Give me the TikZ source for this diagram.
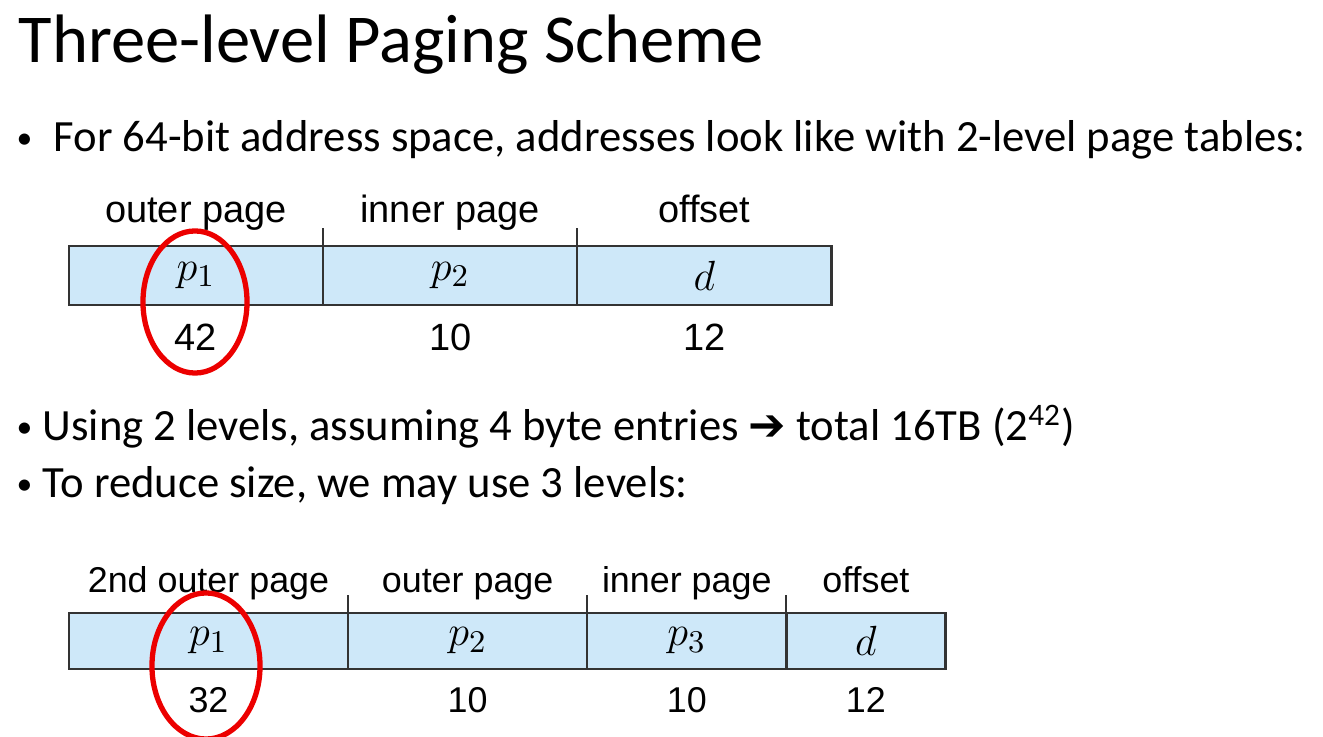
\documentclass[tikz,border=0pt]{standalone}
\usepackage{fontspec}
\setmainfont{Carlito}
\newfontfamily\labelfont{Liberation Sans}
\newfontfamily\symfont{DejaVu Sans}
\usetikzlibrary{positioning}
\definecolor{cellblue}{RGB}{206,232,249}
\definecolor{ringred}{RGB}{236,0,0}

\tikzset{
  fieldbox/.style={draw=black!80, line width=0.7pt, fill=cellblue,
                   inner sep=0pt, outer sep=0pt, font=\fontsize{13}{15}\selectfont},
  fieldlabel/.style={anchor=base, inner sep=0pt, font=\labelfont\fontsize{10.8}{13}\selectfont},
  bitcount/.style={anchor=base, inner sep=0pt, font=\labelfont\fontsize{10.8}{13}\selectfont},
  bullettext/.style={anchor=base west, inner sep=0pt, font=\fontsize{12.7}{15}\selectfont},
  bulletdot/.style={anchor=base west, inner sep=0pt, font=\fontsize{9}{10}\selectfont},
  ring/.style={draw=ringred, line width=1.5pt},
  tick/.style={draw=black!80, line width=0.5pt}
}

\begin{document}
\begin{tikzpicture}[x=0.01cm, y=-0.01cm]
\useasboundingbox[fill=white] (0,0) rectangle (1323,737);

%title
\node[anchor=base west, inner sep=0pt, font=\fontsize{19.5}{23}\selectfont] (title) at (18,63) {Three-level Paging Scheme};

%first bullet
\node[bulletdot] (b1) at (16,149) {\textbullet};
\node[bullettext] (t1) at (53,152) {For 64-bit address space, addresses look like with 2-level page tables:};

%2-level address
\node[fieldbox, minimum width=2.54cm, minimum height=0.59cm] (a1) at (196,275.5) {$p_1$};
\node[fieldbox, minimum width=2.54cm, minimum height=0.59cm, right=0pt of a1] (a2) {$p_2$};
\node[fieldbox, minimum width=2.54cm, minimum height=0.59cm, right=0pt of a2] (a3) {$d$};
\draw[tick] (a2.north west) -- ++(0,-18);
\draw[tick] (a3.north west) -- ++(0,-18);
\node[fieldlabel] (la1) at ([yshift=0.23cm]a1.north) {outer page};
\node[fieldlabel] (la2) at ([yshift=0.23cm]a2.north) {inner page};
\node[fieldlabel] (la3) at ([yshift=0.23cm]a3.north) {offset};
\node[bitcount] (na1) at ([yshift=-0.45cm]a1.south) {42};
\node[bitcount] (na2) at ([yshift=-0.45cm]a2.south) {10};
\node[bitcount] (na3) at ([yshift=-0.45cm]a3.south) {12};
\draw[ring] (195,302) ellipse [x radius=0.52cm, y radius=0.71cm];

%more bullets
\node[bulletdot] (b2) at (16,438) {\textbullet};
\node[bullettext] (t2) at (42,441) {Using 2 levels, assuming 4 byte entries {\symfont ➔} total 16TB (2\textsuperscript{42})};
\node[bulletdot] (b3) at (16,495) {\textbullet};
\node[bullettext] (t3) at (42,498) {To reduce size, we may use 3 levels:};

%3-level address
\node[fieldbox, minimum width=2.79cm, minimum height=0.56cm] (c1) at (208.5,641) {$p_1$};
\node[fieldbox, minimum width=2.39cm, minimum height=0.56cm, right=0pt of c1] (c2) {$p_2$};
\node[fieldbox, minimum width=1.99cm, minimum height=0.56cm, right=0pt of c2] (c3) {$p_3$};
\node[fieldbox, minimum width=1.59cm, minimum height=0.56cm, right=0pt of c3] (c4) {$d$};
\draw[tick] (c2.north west) -- ++(0,-18);
\draw[tick] (c3.north west) -- ++(0,-18);
\draw[tick] (c4.north west) -- ++(0,-18);
\node[fieldlabel, font=\labelfont\fontsize{10.2}{12}\selectfont] (lc1) at ([yshift=0.20cm]c1.north) {2nd outer page};
\node[fieldlabel, font=\labelfont\fontsize{10.2}{12}\selectfont] (lc2) at ([yshift=0.20cm]c2.north) {outer page};
\node[fieldlabel, font=\labelfont\fontsize{10.2}{12}\selectfont] (lc3) at ([yshift=0.20cm]c3.north) {inner page};
\node[fieldlabel, font=\labelfont\fontsize{10.2}{12}\selectfont] (lc4) at ([yshift=0.20cm]c4.north) {offset};
\node[bitcount, font=\labelfont\fontsize{10.2}{12}\selectfont] (nc1) at ([yshift=-0.43cm]c1.south) {32};
\node[bitcount, font=\labelfont\fontsize{10.2}{12}\selectfont] (nc2) at ([yshift=-0.43cm]c2.south) {10};
\node[bitcount, font=\labelfont\fontsize{10.2}{12}\selectfont] (nc3) at ([yshift=-0.43cm]c3.south) {10};
\node[bitcount, font=\labelfont\fontsize{10.2}{12}\selectfont] (nc4) at ([yshift=-0.43cm]c4.south) {12};
\draw[ring] (206,666) ellipse [x radius=0.54cm, y radius=0.73cm];
\end{tikzpicture}
\end{document}
